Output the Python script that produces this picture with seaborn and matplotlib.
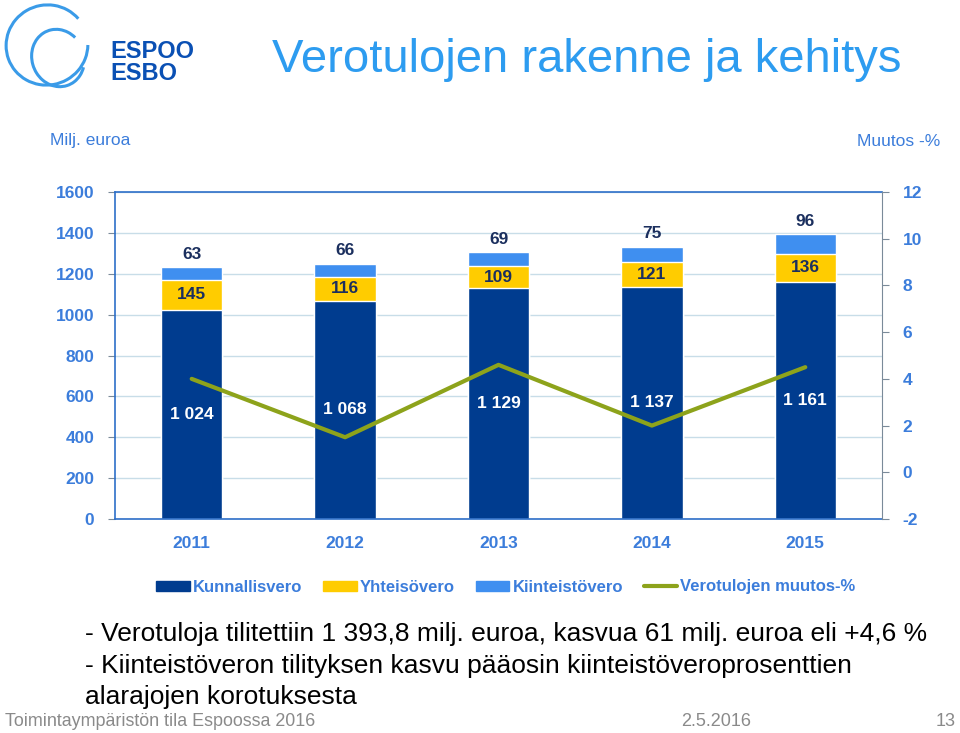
import numpy as np
import pandas as pd
import matplotlib
matplotlib.use("Agg")
import matplotlib.pyplot as plt
import seaborn as sns
from matplotlib.patches import Patch, Arc
from matplotlib.lines import Line2D

years = ["2011", "2012", "2013", "2014", "2015"]
kunnallisvero = [1024, 1068, 1129, 1137, 1161]
yhteisovero = [145, 116, 109, 121, 136]
kiinteistovero = [63, 66, 69, 75, 96]
muutos = [4.0, 1.5, 4.6, 2.0, 4.5]

c_kunn = "#003c8f"
c_yht = "#ffcc00"
c_kiin = "#3f8ff0"
c_line = "#8da31b"
c_tick = "#3c7ddb"
c_title = "#2d9cf0"

df = pd.DataFrame({"year": years, "kunn": kunnallisvero, "yht": yhteisovero, "kiin": kiinteistovero})
df["mid"] = df["kunn"] + df["yht"]
df["total"] = df["mid"] + df["kiin"]

sns.set_style("white")
plt.rcParams["font.family"] = ["Liberation Sans", "DejaVu Sans"]
plt.rcParams["axes.unicode_minus"] = False

fig = plt.figure(figsize=(9.6, 7.33), dpi=100)
ax = fig.add_axes([115 / 960, 1 - 519 / 733, 767 / 960, 327 / 733])

# stacked bars: draw totals first, then overlay the lower parts
sns.barplot(data=df, x="year", y="total", color=c_kiin, width=0.4, saturation=1, ax=ax, zorder=2)
sns.barplot(data=df, x="year", y="mid", color=c_yht, width=0.4, saturation=1, ax=ax, zorder=2)
sns.barplot(data=df, x="year", y="kunn", color=c_kunn, width=0.4, saturation=1, ax=ax, zorder=2)

for i, row in df.iterrows():
    ax.text(i, row["kunn"] / 2, f"{row['kunn']:,}".replace(",", " "), ha="center", va="center",
            color="white", fontsize=12.5, fontweight="bold", zorder=5)
    ax.text(i, row["kunn"] + row["yht"] / 2, str(row["yht"]), ha="center", va="center",
            color="#1b2f5e", fontsize=12.5, fontweight="bold", zorder=5)
    ax.text(i, row["total"] + 25, str(row["kiin"]), ha="center", va="bottom",
            color="#1b2f5e", fontsize=12.5, fontweight="bold", zorder=5)

ax.set_ylim(0, 1600)
ax.set_xlim(-0.5, 4.5)
ax.set_yticks(range(0, 1601, 200))
ax.yaxis.grid(True, color="#c8dde8", linewidth=1)
ax.set_axisbelow(True)
ax.set_xlabel("")
ax.set_ylabel("")
ax.set_xticks(np.arange(-0.5, 5, 1), minor=True)
ax.tick_params(axis="x", which="major", length=0, pad=12, labelsize=12.5, labelcolor=c_tick)
ax.tick_params(axis="x", which="minor", length=5, color="#7a8a99", direction="out")
ax.tick_params(axis="y", length=5, color="#7a8a99", direction="out", labelsize=12.5,
               labelcolor=c_tick, pad=10)
for lab in ax.get_xticklabels() + ax.get_yticklabels():
    lab.set_fontweight("bold")
for s in ["left", "bottom", "top"]:
    ax.spines[s].set_color("#2e6fc8")
    ax.spines[s].set_linewidth(1.2)
ax.spines["right"].set_visible(False)

ax2 = ax.twinx()
sns.lineplot(x=np.arange(len(years)), y=muutos, color=c_line, linewidth=3, ax=ax2, zorder=6)
ax2.set_ylim(-2, 12)
ax2.set_yticks(range(-2, 13, 2))
ax2.tick_params(axis="y", length=5, color="#7a8a99", direction="out", labelsize=12.5,
                labelcolor=c_tick, pad=10)
for lab in ax2.get_yticklabels():
    lab.set_fontweight("bold")
for s in ["left", "bottom", "top"]:
    ax2.spines[s].set_visible(False)
ax2.spines["right"].set_color("#7a8a99")

handles = [Patch(color=c_kunn), Patch(color=c_yht), Patch(color=c_kiin),
           Line2D([], [], color=c_line, linewidth=3)]
labels = ["Kunnallisvero", "Yhteisövero", "Kiinteistövero", "Verotulojen muutos-%"]
leg = fig.legend(handles, labels, loc="center", bbox_to_anchor=(506 / 960, 1 - 587 / 733), ncol=4,
                 frameon=False, handlelength=2.0, handleheight=0.55, handletextpad=0.2,
                 columnspacing=1.25, prop={"size": 12, "weight": "bold"})
for t in leg.get_texts():
    t.set_color(c_tick)

fig.text(50 / 960, 1 - 140 / 733, "Milj. euroa", color=c_tick, fontsize=12.5, va="center")
fig.text(940 / 960, 1 - 142 / 733, "Muutos -%", color=c_tick, fontsize=12.5, va="center", ha="right")
fig.text(272 / 960, 1 - 60 / 733, "Verotulojen rakenne ja kehitys", color=c_title, fontsize=34,
         va="center")

body = ["- Verotuloja tilitettiin 1 393,8 milj. euroa, kasvua 61 milj. euroa eli +4,6 %",
        "- Kiinteistöveron tilityksen kasvu pääosin kiinteistöveroprosenttien",
        "alarajojen korotuksesta"]
for k, line in enumerate(body):
    fig.text(85 / 960, 1 - (634 + 31.5 * k) / 733, line, color="black", fontsize=19, va="center")

fig.text(5 / 960, 1 - 721 / 733, "Toimintaympäristön tila Espoossa 2016", color="#8a8a8a",
         fontsize=12.9, va="center")
fig.text(716 / 960, 1 - 721 / 733, "2.5.2016", color="#8a8a8a", fontsize=13, va="center", ha="center")
fig.text(956 / 960, 1 - 721 / 733, "13", color="#8a8a8a", fontsize=13, va="center", ha="right")

# logo
fig.text(110 / 960, 1 - 52 / 733, "ESPOO", color="#0a50b4", fontsize=17, fontweight="bold", va="center")
fig.text(110 / 960, 1 - 73 / 733, "ESBO", color="#0a50b4", fontsize=17, fontweight="bold", va="center")
lax = fig.add_axes([0, 1 - 100 / 733, 100 / 960, 100 / 733])
lax.set_xlim(0, 100)
lax.set_ylim(100, 0)
lax.axis("off")
lax.add_patch(Arc((47, 45), 82, 80, angle=-20, theta1=20, theta2=340, color="#3a9be8", linewidth=2.2))
lax.add_patch(Arc((58, 58), 52, 58, angle=-20, theta1=40, theta2=330, color="#3a9be8", linewidth=2.2))

fig.savefig("out.png", dpi=100, facecolor="white")
